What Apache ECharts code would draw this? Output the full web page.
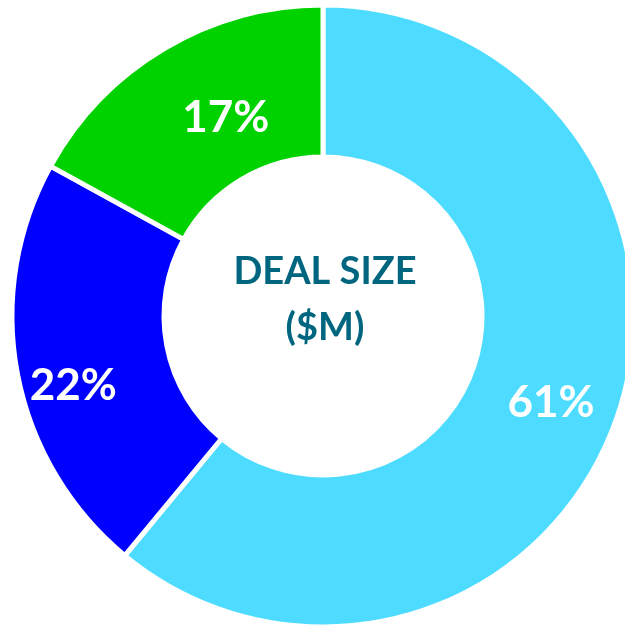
<!DOCTYPE html>
<html>
<head>
<meta charset="utf-8">
<script src="https://cdn.jsdelivr.net/npm/echarts@6/dist/echarts.min.js"></script>
<style>
  html, body { margin: 0; padding: 0; background: #fff; }
  #main { width: 625px; height: 628px; }
</style>
</head>
<body>
<div id="main"></div>
<script>
// deal size share
const segments = ['Large', 'Mid', 'Small'];
const shares = [61, 22, 17];
const colors = ['#4ddcff', '#0000ff', '#00d200'];
// nudges so labels sit where the original puts them
const labelShift = [[4, 6], [-16, 25], [24, 7]];

const chart = echarts.init(document.getElementById('main'));

var option = {
    animation: false,
    graphic: [{
        type: 'text',
        style: {
            x: 325,
            y: 300,
            text: 'DEAL SIZE\n($M)',
            textAlign: 'center',
            textVerticalAlign: 'middle',
            fill: '#00667f',
            font: 'bold 38px Lato',
            lineHeight: 56
        }
    }],
    series: [{
        type: 'pie',
        center: [323, 316],
        radius: [159, 311],
        startAngle: 90,
        clockwise: true,
        itemStyle: {
            borderColor: '#fff',
            borderWidth: 5
        },
        label: {
            show: true,
            position: 'inside',
            formatter: '{c}%',
            color: '#fff',
            fontSize: 44,
            fontWeight: 'bold',
            fontFamily: 'Lato'
        },
        labelLine: { show: false },
        data: segments.map((s, i) => ({
            name: s,
            value: shares[i],
            itemStyle: { color: colors[i] },
            label: { offset: labelShift[i] }
        }))
    }]
};
chart.setOption(option);
</script>
</body>
</html>
